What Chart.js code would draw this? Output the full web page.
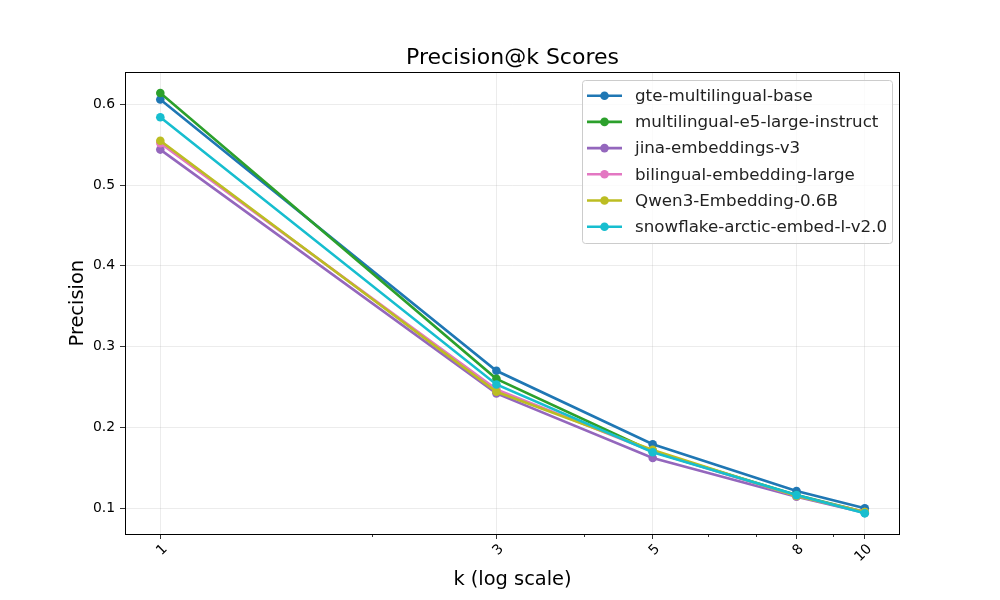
<!DOCTYPE html>
<html>
<head>
<meta charset="utf-8">
<script src="https://cdn.jsdelivr.net/npm/chart.js@4.4.1/dist/chart.umd.min.js"></script>
<style>
html,body{margin:0;padding:0;background:#fff;}
#wrap{width:1000px;height:600px;position:relative;}
</style>
</head>
<body>
<div id="wrap"><canvas id="c" width="1000" height="600"></canvas></div>
<script>
const kValues = [1, 3, 5, 8, 10];
const xMajorTicks = [1, 3, 5, 8, 10];
const xMinorTicks = [2, 4, 6, 7, 9];
const yTicks = [0.1, 0.2, 0.3, 0.4, 0.5, 0.6];
const seriesNames = ['gte-multilingual-base', 'multilingual-e5-large-instruct', 'jina-embeddings-v3', 'bilingual-embedding-large', 'Qwen3-Embedding-0.6B', 'snowflake-arctic-embed-l-v2.0'];
const gteValues = [0.606, 0.270, 0.179, 0.121, 0.0996];
const e5Values = [0.614, 0.260, 0.170, 0.116, 0.095];
const jinaValues = [0.544, 0.242, 0.162, 0.114, 0.094];
const bilingualValues = [0.552, 0.247, 0.170, 0.115, 0.095];
const qwenValues = [0.555, 0.244, 0.172, 0.115, 0.095];
const snowflakeValues = [0.584, 0.253, 0.169, 0.116, 0.0934];
const seriesColors = ['#1f77b4', '#2ca02c', '#9467bd', '#e377c2', '#bcbd22', '#17becf'];

const allValues = [gteValues, e5Values, jinaValues, bilingualValues, qwenValues, snowflakeValues];
const FONT = "'DejaVu Sans', sans-serif";

const datasets = allValues.map((vals, i) => ({
  label: seriesNames[i],
  data: vals.map((v, j) => ({x: kValues[j], y: v})),
  borderColor: seriesColors[i],
  backgroundColor: seriesColors[i],
  borderWidth: 2.6,
  pointRadius: 4.3,
  pointHoverRadius: 4.3,
  pointBorderWidth: 0,
  tension: 0,
  order: seriesNames.length - i
}));

const framePlugin = {
  id: 'frame',
  afterDatasetsDraw(chart) {
    const {ctx, chartArea: a, scales} = chart;
    ctx.save();
    ctx.strokeStyle = '#000';
    ctx.lineWidth = 1;
    ctx.strokeRect(Math.round(a.left) + 0.5, Math.round(a.top) + 0.5, Math.round(a.right - a.left) - 1, Math.round(a.bottom - a.top));
    const xs = scales.x;
    ctx.beginPath();
    xMinorTicks.forEach(v => {
      const px = Math.round(xs.getPixelForValue(v)) + 0.5;
      ctx.moveTo(px, a.bottom);
      ctx.lineTo(px, a.bottom + 3);
    });
    ctx.lineWidth = 0.8;
    ctx.stroke();
    ctx.restore();
  },
  afterDraw(chart) {
    const {ctx} = chart;
    const lx = 582, ly = 80, lw = 310, lh = 163;
    ctx.save();
    ctx.fillStyle = 'rgba(255,255,255,0.8)';
    ctx.strokeStyle = '#cccccc';
    ctx.lineWidth = 1;
    ctx.beginPath();
    ctx.roundRect(lx + 0.5, ly + 0.5, lw, lh, 3);
    ctx.fill();
    ctx.stroke();
    ctx.font = "16.7px " + FONT;
    ctx.textBaseline = 'middle';
    chart.data.datasets.forEach((ds, i) => {
      const y = 95.7 + i * 26.2;
      ctx.strokeStyle = ds.borderColor;
      ctx.lineWidth = 2.6;
      ctx.beginPath();
      ctx.moveTo(587, y);
      ctx.lineTo(622, y);
      ctx.stroke();
      ctx.fillStyle = ds.borderColor;
      ctx.beginPath();
      ctx.arc(604.5, y, 4.3, 0, Math.PI * 2);
      ctx.fill();
      ctx.fillStyle = '#222';
      ctx.fillText(ds.label, 635, y + 1);
    });
    ctx.restore();
  }
};

new Chart(document.getElementById('c'), {
  type: 'line',
  data: {datasets},
  options: {
    responsive: false,
    animation: false,
    devicePixelRatio: 1,
    layout: {padding: {left: 25, right: 0, top: 0, bottom: 0}},
    plugins: {
      legend: {display: false},
      tooltip: {enabled: false},
      title: {
        display: true,
        text: 'Precision@k Scores',
        color: '#000',
        font: {family: FONT, size: 22, weight: 'normal', lineHeight: 1.2},
        padding: {top: 45, bottom: 1}
      }
    },
    scales: {
      x: {
        type: 'logarithmic',
        min: 0.891,
        max: 11.22,
        afterBuildTicks(scale) { scale.ticks = xMajorTicks.map(v => ({value: v})); },
        afterFit(scale) { scale.height = 66; },
        ticks: {
          autoSkip: false,
          minRotation: 45,
          maxRotation: 45,
          labelOffset: 5,
          padding: 2,
          color: '#000',
          font: {family: FONT, size: 13.9},
          callback: v => String(v)
        },
        grid: {
          color: 'rgba(176,176,176,0.3)',
          lineWidth: 0.8,
          tickColor: '#000',
          tickLength: 5,
          drawTicks: true
        },
        border: {display: false},
        title: {
          display: true,
          text: 'k (log scale)',
          color: '#000',
          font: {family: FONT, size: 19.4, lineHeight: 1.2},
          padding: {top: 0, bottom: 8}
        }
      },
      y: {
        type: 'linear',
        min: 0.0678,
        max: 0.6396,
        afterBuildTicks(scale) { scale.ticks = yTicks.map(v => ({value: v})); },
        afterFit(scale) { scale.width = 100; },
        ticks: {
          padding: 5,
          color: '#000',
          font: {family: FONT, size: 13.9},
          callback: v => v.toFixed(1)
        },
        grid: {
          color: 'rgba(176,176,176,0.3)',
          lineWidth: 0.8,
          tickColor: '#000',
          tickLength: 5,
          drawTicks: true
        },
        border: {display: false},
        title: {
          display: true,
          text: 'Precision',
          color: '#000',
          font: {family: FONT, size: 19.4, lineHeight: 1.2},
          padding: {top: 41, bottom: 0}
        }
      },
      yRight: {
        type: 'linear',
        position: 'right',
        display: true,
        min: 0,
        max: 1,
        afterFit(scale) { scale.width = 100; },
        ticks: {display: false},
        grid: {display: false, drawTicks: false},
        border: {display: false}
      }
    }
  },
  plugins: [framePlugin]
});
</script>
</body>
</html>
